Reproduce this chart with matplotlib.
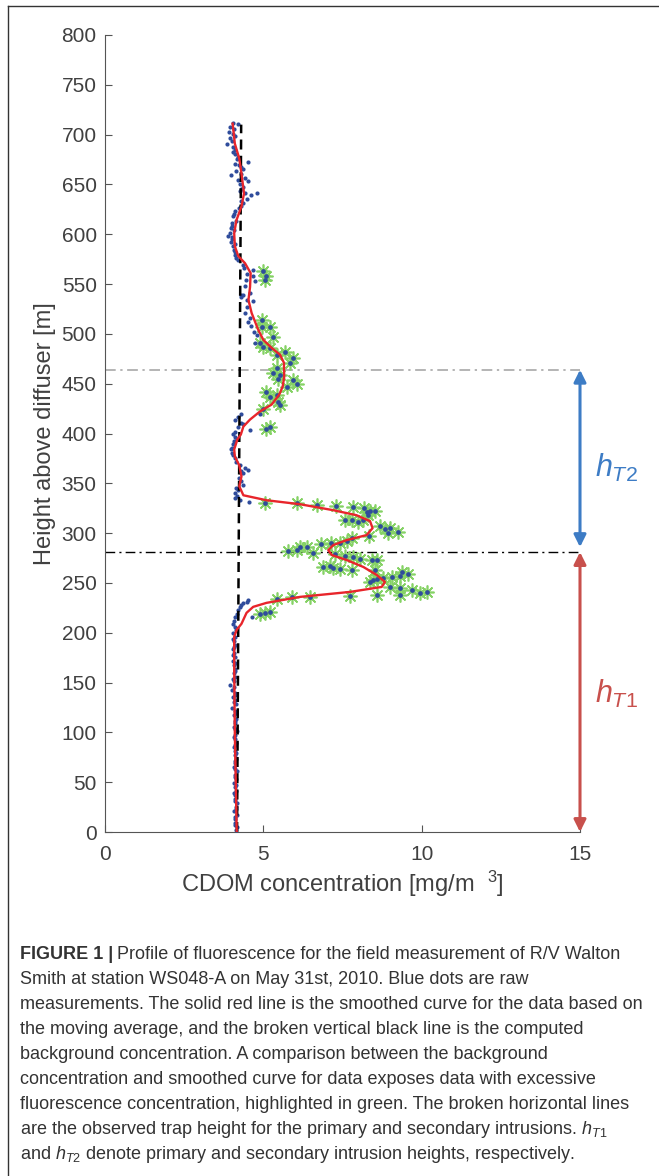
import numpy as np
import matplotlib
matplotlib.use('Agg')
import matplotlib.pyplot as plt
from matplotlib.lines import Line2D

plt.rcParams['font.family'] = ['Liberation Sans', 'DejaVu Sans']
plt.rcParams['mathtext.fontset'] = 'custom'
plt.rcParams['mathtext.rm'] = 'Liberation Sans'
plt.rcParams['mathtext.it'] = 'Liberation Sans:italic'
plt.rcParams['mathtext.bf'] = 'Liberation Sans:bold'

### raw measurements (height [m], CDOM [mg/m3]) - background part ###
raw_top = [(712, 4.03), (708, 3.95), (711, 4.21), (703, 3.93), (701, 4.05), (697, 3.95), (691, 3.84),
           (688, 4.03), (681, 4.10), (676, 4.16), (671, 4.10), (673, 4.53), (668, 4.31), (665, 4.37),
           (659, 3.97), (663, 4.14), (654, 4.21), (656, 4.42), (653, 4.53), (650, 4.26), (645, 4.31),
           (641, 4.42), (641, 4.81), (639, 4.60), (635, 4.47), (631, 4.37), (626, 4.24), (623, 4.10),
           (618, 4.05), (613, 4.14), (608, 4.00), (601, 3.95), (598, 3.89), (595, 4.00), (588, 4.05),
           (579, 4.10), (574, 4.21), (569, 4.37), (564, 4.68), (558, 4.66), (553, 4.74), (554, 4.45),
           (548, 4.42), (539, 4.31), (541, 4.58), (706, 4.08), (694, 4.00), (685, 4.12), (678, 4.20),
           (647, 4.35), (628, 4.28), (611, 4.02), (604, 4.06), (592, 3.98), (584, 4.08), (582, 4.12),
           (699, 4.10), (683, 4.05), (670, 4.22), (660, 4.30), (643, 4.25), (633, 4.30), (620, 4.08),
           (606, 3.98), (597, 4.02), (590, 4.10), (576, 4.15), (566, 4.40), (560, 4.50)]
raw_mid = [(539, 4.37), (537, 4.31), (534, 4.47), (533, 4.66), (521, 4.42), (512, 4.53), (516, 4.58),
           (502, 4.71), (499, 4.79), (491, 4.74), (420, 4.89), (420, 4.31), (417, 4.21), (414, 4.10),
           (410, 4.37), (404, 4.58), (407, 4.21), (399, 4.05), (394, 4.16), (389, 4.05), (380, 4.00),
           (375, 4.10), (368, 4.26), (365, 4.42), (363, 4.53), (360, 4.37), (527, 4.50), (508, 4.62),
           (411, 4.28), (402, 4.12), (396, 4.09), (385, 4.02), (371, 4.15), (384, 3.98),
           (360, 4.31), (355, 4.24), (348, 4.35), (340, 4.10), (337, 4.16), (333, 4.26), (331, 4.55),
           (343, 4.20), (226, 4.26), (230, 4.37), (231, 4.47), (233, 4.53), (223, 4.21), (216, 4.63),
           (216, 4.10), (209, 4.05), (203, 4.14), (219, 4.18), (212, 4.08),
           (392, 4.08), (378, 4.05), (362, 4.30), (352, 4.28), (345, 4.15), (335, 4.12), (228, 4.30),
           (206, 4.10)]
raw_low = [(2, 4.14), (5, 4.18), (9, 4.10), (13, 4.12), (17, 4.16), (21, 4.08), (25, 4.13), (29, 4.17),
           (33, 4.09), (37, 4.12), (41, 4.15), (45, 4.10), (49, 4.06), (53, 4.13), (57, 4.11), (61, 4.17),
           (65, 4.08), (69, 4.12), (73, 4.15), (77, 4.09), (81, 4.12), (85, 4.07), (89, 4.14), (93, 4.10),
           (97, 4.12), (101, 4.16), (105, 4.08), (109, 4.11), (113, 4.14), (117, 4.06), (121, 4.10),
           (124, 4.00), (128, 4.13), (132, 4.09), (136, 4.05), (140, 4.12), (143, 4.00), (148, 3.95),
           (152, 4.08), (156, 4.11), (160, 4.06), (164, 4.12), (168, 4.08), (172, 4.05), (176, 4.10),
           (180, 4.07), (184, 4.04), (188, 4.09), (192, 4.06), (196, 4.10), (200, 4.05),
           (7, 4.12), (15, 4.09), (23, 4.15), (31, 4.11), (39, 4.08), (47, 4.13), (55, 4.09), (63, 4.12),
           (71, 4.10), (79, 4.14), (87, 4.11), (95, 4.08), (103, 4.12), (111, 4.09), (119, 4.13),
           (130, 4.07), (138, 4.10), (146, 4.06), (154, 4.05), (162, 4.09), (170, 4.11), (178, 4.05),
           (186, 4.08), (194, 4.04)]

### measurements above background (highlighted green) ###
exc_primary = [(330, 5.05), (330, 6.05), (328, 6.70), (327, 7.31), (326, 7.82), (325, 8.18), (321, 8.26),
               (322, 8.37), (322, 8.53), (318, 8.31), (313, 7.58), (313, 7.79), (311, 8.00), (313, 8.16),
               (307, 8.68), (304, 8.84), (305, 9.00), (300, 8.95), (301, 9.26), (297, 8.35), (295, 7.79),
               (292, 7.63), (290, 7.42), (290, 7.13), (289, 6.81), (286, 6.37), (286, 6.16), (283, 6.05),
               (282, 5.79), (280, 6.58), (279, 7.26), (277, 7.58), (276, 7.84), (274, 8.05), (273, 8.42),
               (273, 8.58), (266, 6.89), (267, 7.10), (265, 7.21), (264, 7.42), (263, 7.79), (263, 8.53),
               (251, 8.37), (253, 8.47), (254, 8.58), (255, 8.79), (256, 9.05), (257, 9.32), (261, 9.37),
               (259, 9.58), (246, 9.00), (245, 9.32), (243, 9.68), (240, 9.95), (241, 10.16), (238, 9.32),
               (238, 8.58), (237, 7.74), (236, 6.47), (236, 5.89), (234, 5.42), (221, 5.21), (220, 5.05),
               (219, 4.89)]
exc_secondary = [(563, 5.00), (558, 5.10), (554, 5.05), (514, 4.95), (507, 5.21), (507, 4.95), (497, 5.29),
                 (491, 4.89), (487, 5.00), (486, 5.21), (479, 5.42), (482, 5.68), (476, 5.95), (471, 5.84),
                 (466, 5.42), (459, 5.53), (461, 5.32), (455, 5.47), (454, 5.95), (450, 6.05), (447, 5.74),
                 (442, 5.10), (437, 5.21), (439, 5.42), (429, 5.53), (432, 5.47), (425, 5.00), (407, 5.21),
                 (405, 5.08)]

### smoothed (moving average) curve ###
smooth_h = [711, 691, 676, 661, 641, 628, 614, 601, 588, 578, 571, 561, 547, 534, 521, 504, 494, 486, 479, 471,
            457, 447, 439, 429, 422, 414, 407, 399, 394, 384, 377, 368, 357, 347, 338, 333, 329, 323, 318, 312,
            305, 298, 293, 288, 283, 278, 273, 266, 258, 251, 246, 241, 236, 230, 226, 220, 209, 203, 196, 166,
            99, 32, 0]
smooth_c = [4.03, 4.10, 4.24, 4.31, 4.39, 4.31, 4.15, 4.08, 4.10, 4.21, 4.42, 4.60, 4.58, 4.53, 4.63, 4.84, 5.00,
            5.26, 5.53, 5.65, 5.66, 5.61, 5.50, 5.26, 4.89, 4.58, 4.37, 4.29, 4.18, 4.08, 4.10, 4.24, 4.31, 4.24,
            4.37, 5.10, 6.16, 7.21, 7.94, 8.37, 8.45, 8.26, 7.63, 7.21, 7.05, 7.16, 7.63, 8.16, 8.58, 8.84, 8.74,
            7.74, 6.16, 5.10, 4.68, 4.47, 4.31, 4.16, 4.08, 4.08, 4.10, 4.14, 4.16]

### background concentration ###
bg_h = [0, 710]
bg_c = [4.17, 4.30]

### trap heights ###
h_t1 = 281
h_t2 = 464

caption_lines = [
    "Profile of fluorescence for the field measurement of R/V Walton",
    "Smith at station WS048-A on May 31st, 2010. Blue dots are raw",
    "measurements. The solid red line is the smoothed curve for the data based on",
    "the moving average, and the broken vertical black line is the computed",
    "background concentration. A comparison between the background",
    "concentration and smoothed curve for data exposes data with excessive",
    "fluorescence concentration, highlighted in green. The broken horizontal lines",
    "are the observed trap height for the primary and secondary intrusions. $h_{T1}$",
    "and $h_{T2}$ denote primary and secondary intrusion heights, respectively.",
]

raw = np.array(raw_top + raw_mid + raw_low)
exc = np.array(exc_primary + exc_secondary)

W, H = 659, 1176
fig = plt.figure(figsize=(W / 100, H / 100), dpi=100)
ax = fig.add_axes([105 / W, 1 - 832 / H, 475 / W, 797 / H])

gray = '#404040'

ax.plot(exc[:, 1], exc[:, 0], linestyle='none', marker=(8, 2, 0), color='#86d266', ms=10, mew=1.2, zorder=2)
ax.plot(raw[:, 1], raw[:, 0], linestyle='none', marker='o', color='#2f4c9c', ms=3.0, mew=0, zorder=3)
ax.plot(exc[:, 1], exc[:, 0], linestyle='none', marker='o', color='#2f4c9c', ms=3.4, mew=0, zorder=3)
ax.plot(bg_c, bg_h, color='black', lw=1.8, linestyle=(0, (4, 2.5)), zorder=4)
ax.plot(smooth_c, smooth_h, color='#e8252b', lw=1.7, zorder=5)

ax.plot([0, 15], [h_t2, h_t2], color='#a0a0a0', lw=1.1, linestyle=(0, (7, 3, 1.5, 3)), zorder=1)
ax.plot([0, 15], [h_t1, h_t1], color='black', lw=1.0, linestyle=(0, (7, 3, 1.5, 3)), zorder=1)

ax.annotate('', xy=(15, 0), xytext=(15, h_t1), annotation_clip=False,
            arrowprops=dict(arrowstyle='<|-|>', color='#c8504c', lw=2.2, mutation_scale=18,
                            shrinkA=0, shrinkB=0))
ax.annotate('', xy=(15, h_t1 + 5), xytext=(15, h_t2), annotation_clip=False,
            arrowprops=dict(arrowstyle='<|-|>', color='#3d7cc5', lw=2.2, mutation_scale=18,
                            shrinkA=0, shrinkB=0))
ax.text(15.47, 365, r'$\mathit{h_{T2}}$', color='#3d7cc5', fontsize=22, ha='left', va='center', clip_on=False)
ax.text(15.47, 139, r'$\mathit{h_{T1}}$', color='#c8504c', fontsize=22, ha='left', va='center', clip_on=False)

ax.set_xlim(0, 15)
ax.set_ylim(0, 800)
ax.set_xticks([0, 5, 10, 15])
ax.set_yticks(np.arange(0, 801, 50))
for s in ['top', 'right']:
    ax.spines[s].set_visible(False)
for s in ['left', 'bottom']:
    ax.spines[s].set_color('#555555')
    ax.spines[s].set_linewidth(0.8)
ax.tick_params(direction='in', length=5, width=0.8, color='#555555', labelcolor=gray, labelsize=15)
ax.tick_params(axis='y', pad=6)
ax.tick_params(axis='x', pad=9)
ax.set_xlabel('CDOM concentration [mg/m  $^{3}$]', fontsize=17, color=gray, labelpad=4)
ax.set_ylabel('Height above diffuser [m]', fontsize=17, color=gray, labelpad=4)

# outer frame
fig.add_artist(Line2D([8 / W, 8 / W], [0, 1 - 6 / H], color='#333333', lw=1.0))
fig.add_artist(Line2D([8 / W, 1], [1 - 6 / H, 1 - 6 / H], color='#333333', lw=1.0))

# caption
cap_color = '#333333'
cap_size = 13
x0 = 20 / W
y0 = 1 - 959 / H
dy = 25 / H
renderer = fig.canvas.get_renderer()
t = fig.text(x0, y0, 'FIGURE 1 |', fontsize=cap_size, fontweight='bold', color=cap_color, va='baseline')
bb = t.get_window_extent(renderer)
fig.text(bb.x1 / W + 4 / W, y0, caption_lines[0], fontsize=cap_size, color=cap_color, va='baseline')
for i, line in enumerate(caption_lines[1:]):
    fig.text(x0, y0 - (i + 1) * dy, line, fontsize=cap_size, color=cap_color, va='baseline')

fig.savefig('out.png', dpi=100)
